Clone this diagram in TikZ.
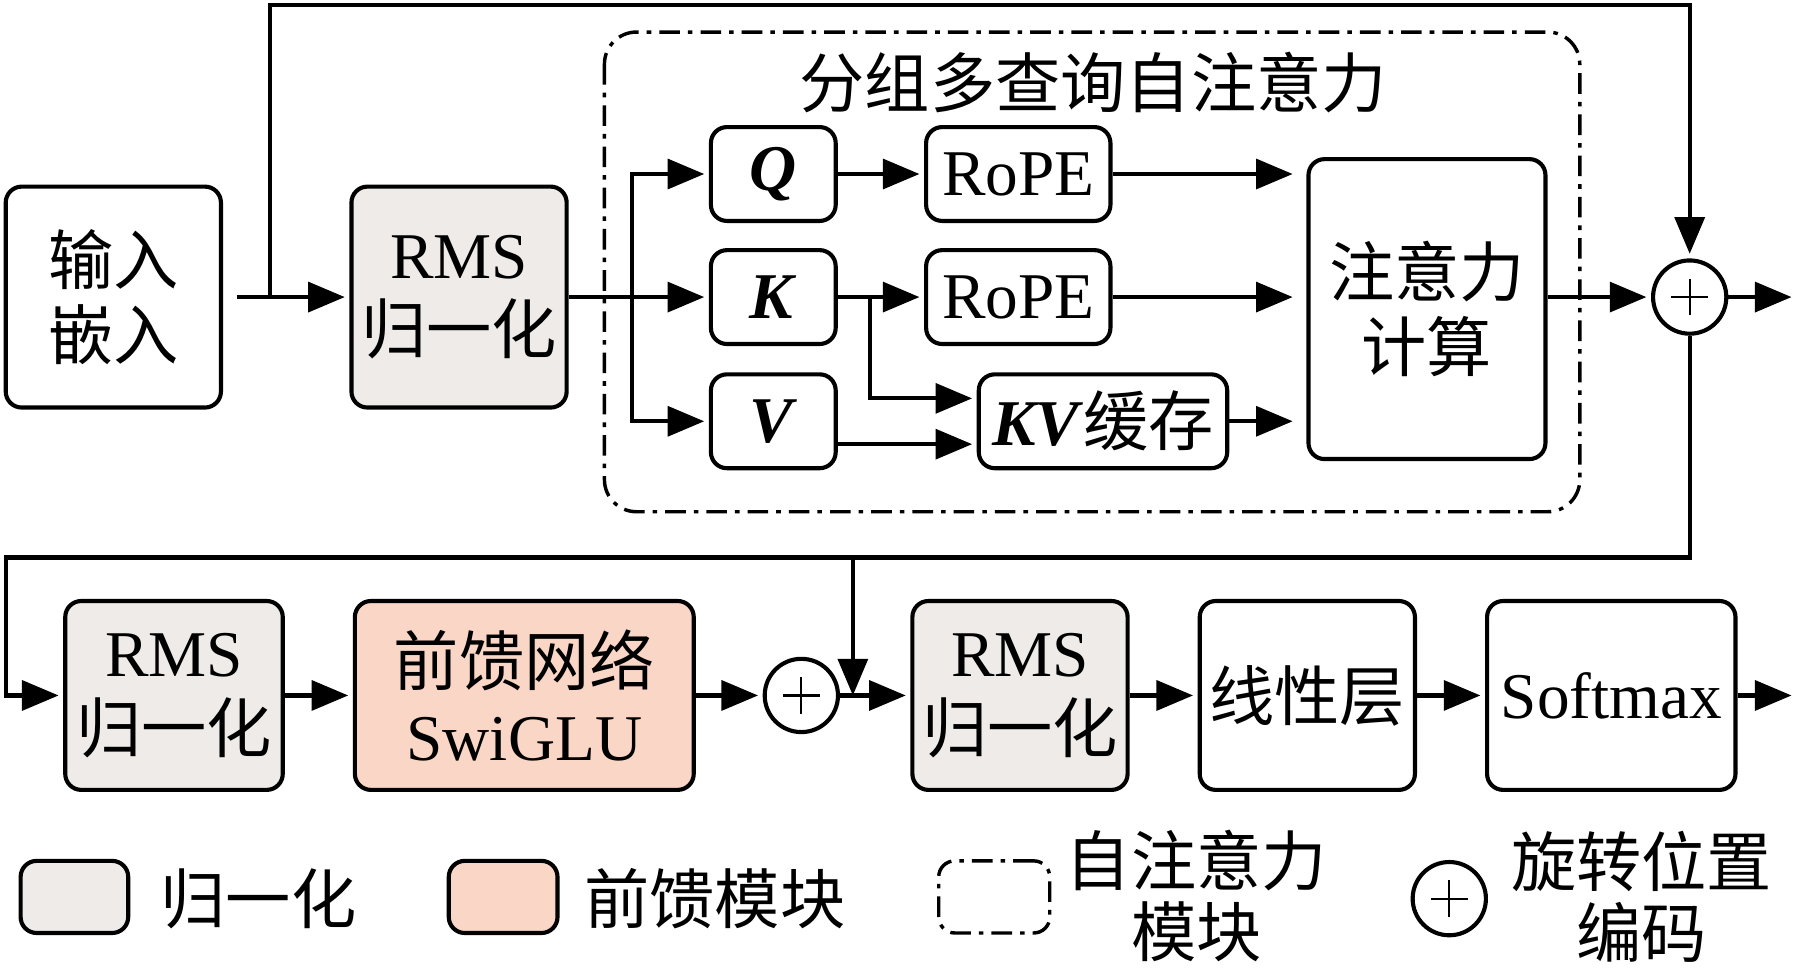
\documentclass[tikz,border=0pt]{standalone}
\usepackage{fontspec}
\setmainfont{Liberation Serif}
\newfontfamily\cjk{Noto Sans CJK SC}
\usetikzlibrary{arrows.meta}
\definecolor{normgray}{RGB}{239,235,232}
\definecolor{ffnpink}{RGB}{250,214,198}
\newcommand{\zh}[1]{{\cjk #1}}
\tikzset{
  txt/.style={font=\fontsize{28.5}{33}\selectfont,align=center,inner sep=0pt},
  blk/.style={txt,draw,line width=1.8pt,rounded corners=7pt},
  addop/.style={draw,circle,line width=1.8pt,minimum size=32pt,inner sep=0pt,
    path picture={
      \draw[line width=1pt] ([xshift=-8pt]path picture bounding box.center) -- ([xshift=8pt]path picture bounding box.center);
      \draw[line width=1pt] ([yshift=-8pt]path picture bounding box.center) -- ([yshift=8pt]path picture bounding box.center);
    }},
  arr/.style={line width=1.8pt,-{Triangle[length=16pt,width=13pt]},shorten >=2pt},
  dashdot/.style={line width=1.5pt,dash pattern=on 9pt off 3.5pt on 2pt off 3.5pt,rounded corners=14pt},
}

\begin{document}
\begin{tikzpicture}[x=0.5pt,y=-0.5pt]
\useasboundingbox (0,0) rectangle (1568,846);

% grouped-query attention frame
\draw[dashdot] (528,28) rectangle (1380,447);
\node[txt] (gqatitle) at (955,72) {\zh{分组多查询自注意力}};

% top row
\node[blk,minimum width=94pt,minimum height=96.5pt] (embed) at (99,259.5) {\zh{输入}\\\zh{嵌入}};
\node[blk,fill=normgray,minimum width=94pt,minimum height=96.5pt] (rmsa) at (401,259.5) {RMS\\\zh{归一化}};
\node[blk,minimum width=54.5pt,minimum height=41pt] (q) at (675.5,152) {\textbf{\textit{Q}}};
\node[blk,minimum width=54.5pt,minimum height=41pt] (k) at (675.5,259.5) {\textbf{\textit{K}}};
\node[blk,minimum width=54.5pt,minimum height=41pt] (v) at (675.5,368) {\textbf{\textit{V}}};
\node[blk,minimum width=80.5pt,minimum height=41pt] (ropeq) at (889.5,152) {RoPE};
\node[blk,minimum width=80.5pt,minimum height=41pt] (ropek) at (889.5,259.5) {RoPE};
\node[blk,minimum width=108.5pt,minimum height=41pt] (kv) at (963.5,368) {\textbf{\textit{KV}}\zh{缓存}};
\node[blk,minimum width=103.5pt,minimum height=131pt] (attn) at (1246.5,270) {\zh{注意力}\\\zh{计算}};
\node[addop] (adda) at (1476,259.5) {};

\coordinate (skip) at (236,259.5);
\coordinate (topl) at (236,4);
\coordinate (qkv) at (552,259.5);
\coordinate (kc) at (760,259.5);
\coordinate (outa) at (1565,259.5);

\draw[arr,shorten <=6pt] (embed) -- (rmsa);
\draw[arr] (skip) -- (topl) -| (adda);
\draw[arr] (rmsa) -- (k);
\draw[arr] (qkv) |- (q);
\draw[arr] (qkv) |- (v);
\draw[arr] (q) -- (ropeq);
\draw[arr] (k) -- (ropek);
\draw[arr] (kc) |- ([yshift=10pt]kv.west);
\draw[arr] ([yshift=-10pt]v.east) -- ([yshift=-10pt]kv.west);
\draw[arr,shorten >=6pt] (ropeq) -- (ropeq -| attn.west);
\draw[arr,shorten >=6pt] (ropek) -- (ropek -| attn.west);
\draw[arr,shorten >=6pt] (kv) -- (kv -| attn.west);
\draw[arr] (attn.east |- adda) -- (adda);
\draw[arr,shorten >=0pt] (adda) -- (outa);

% bottom row
\node[blk,fill=normgray,minimum width=95pt,minimum height=82.5pt] (rmsb) at (152,607.5) {RMS\\\zh{归一化}};
\node[blk,fill=ffnpink,minimum width=148pt,minimum height=82.5pt] (ffn) at (458,607.5) {\zh{前馈网络}\\SwiGLU};
\node[addop] (addb) at (700,607.5) {};
\node[blk,fill=normgray,minimum width=94pt,minimum height=82.5pt] (rmsc) at (891,607.5) {RMS\\\zh{归一化}};
\node[blk,minimum width=94pt,minimum height=82.5pt] (linear) at (1142,607.5) {\zh{线性层}};
\node[blk,minimum width=108.5pt,minimum height=82.5pt] (softmax) at (1407.5,607.5) {Softmax};

\coordinate (loopr) at (1476,487);
\coordinate (loopl) at (5,487);
\coordinate (res) at (745,487);
\coordinate (outb) at (1565,607.5);

\draw[arr] (adda) -- (loopr) -- (loopl) |- (rmsb);
\draw[arr,shorten >=0pt] (res) -- (res |- addb);
\draw[arr] (rmsb) -- (ffn);
\draw[arr] (ffn) -- (addb);
\draw[arr] (addb) -- (rmsc);
\draw[arr] (rmsc) -- (linear);
\draw[arr] (linear) -- (softmax);
\draw[arr,shorten >=0pt] (softmax) -- (outb);

% legend
\node[blk,fill=normgray,minimum width=47pt,minimum height=31.5pt] (keynorm) at (65,783.5) {};
\node[txt,anchor=west] (keynormtxt) at (140,785) {\zh{归一化}};
\node[blk,fill=ffnpink,minimum width=47.5pt,minimum height=31.5pt] (keyffn) at (439.5,783.5) {};
\node[txt,anchor=west] (keyffntxt) at (510,785) {\zh{前馈模块}};
\node[dashdot,draw,rounded corners=7pt,minimum width=48.5pt,minimum height=31.5pt] (keyattn) at (868.5,783.5) {};
\node[txt,font=\fontsize{28.5}{31}\selectfont] (keyattntxt) at (1045,783) {\zh{自注意力}\\\zh{模块}};
\node[addop] (keyadd) at (1266,785) {};
\node[txt,font=\fontsize{28.5}{31}\selectfont] (keyaddtxt) at (1434,783) {\zh{旋转位置}\\\zh{编码}};

\end{tikzpicture}
\end{document}
